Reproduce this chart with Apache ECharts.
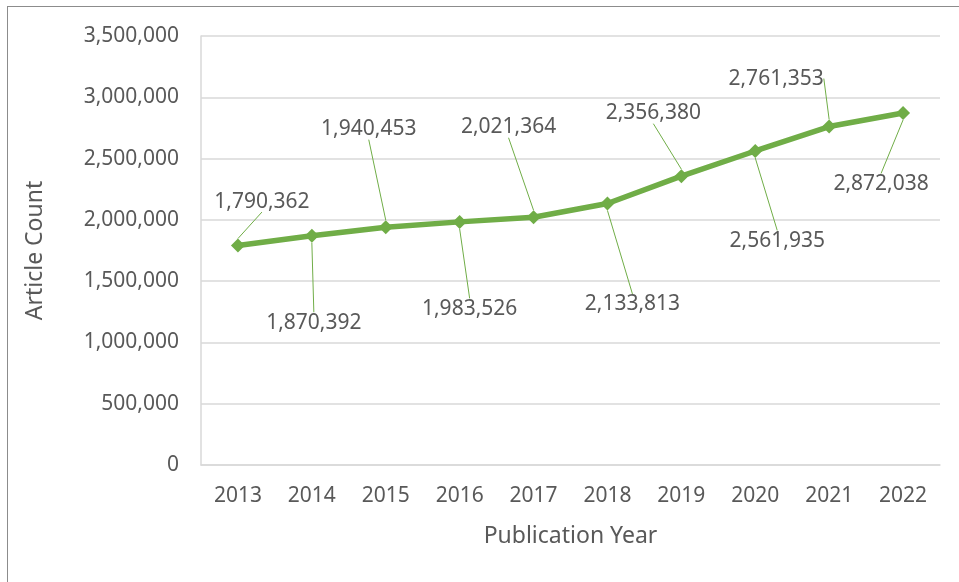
<!DOCTYPE html>
<html>
<head>
<meta charset="utf-8">
<script src="https://cdn.jsdelivr.net/npm/echarts@6/dist/echarts.min.js"></script>
<style>
html,body{margin:0;padding:0;background:#fff;}
#frame{position:absolute;left:7px;top:6px;width:960px;height:590px;border-left:1.5px solid #8c8c8c;border-top:1.5px solid #8c8c8c;}
#chart{position:absolute;left:0;top:0;width:959px;height:582px;}
</style>
</head>
<body>
<div id="frame"></div>
<div id="chart"></div>
<script>
const years = ['2013','2014','2015','2016','2017','2018','2019','2020','2021','2022'];
const articleCounts = [1790362, 1870392, 1940453, 1983526, 2021364, 2133813, 2356380, 2561935, 2761353, 2872038];
const yTicks = [0, 500000, 1000000, 1500000, 2000000, 2500000, 3000000, 3500000];
// label offsets (layout only)
const labelOffsets = [[24,-44],[2,87],[-17,-98],[10,87],[-25,-90],[25,101],[-28,-63],[22,90],[-53,-48],[-22,71]];

const green = '#70AD47';
const txt = '#595959';
const font = 'Noto Sans';
const chart = echarts.init(document.getElementById('chart'));
chart.setOption({
  animation: false,
  textStyle: {fontFamily: font},
  grid: {left: 201, top: 36, right: 19, bottom: 117, containLabel: false},
  xAxis: {
    type: 'category', data: years, boundaryGap: true,
    name: 'Publication Year', nameLocation: 'middle', nameGap: 60,
    nameTextStyle: {fontSize: 23, color: txt, fontFamily: font},
    axisLine: {lineStyle: {color: '#d9d9d9', width: 1.5}},
    axisTick: {show: false},
    axisLabel: {fontSize: 21, color: txt, margin: 21, fontFamily: font}
  },
  yAxis: {
    type: 'value', min: yTicks[0], max: yTicks[yTicks.length-1], interval: 500000,
    name: 'Article Count', nameLocation: 'middle', nameGap: 154, nameRotate: 90,
    nameTextStyle: {fontSize: 23, color: txt, fontFamily: font},
    axisLine: {show: true, lineStyle: {color: '#d9d9d9', width: 1.5}},
    axisTick: {show: false},
    splitLine: {lineStyle: {color: '#d9d9d9', width: 1.5}},
    axisLabel: {fontSize: 21, color: txt, margin: 22, fontFamily: font,
      formatter: v => v.toLocaleString('en-US')}
  },
  series: [{
    type: 'line', data: articleCounts,
    symbol: 'diamond', symbolSize: 14,
    lineStyle: {color: green, width: 5.5},
    itemStyle: {color: green},
    label: {show: true, position: 'inside', fontSize: 21, color: txt, fontFamily: font,
      formatter: p => p.value.toLocaleString('en-US')},
    labelLine: {show: true, lineStyle: {color: green, width: 1}},
    labelLayout: p => ({dx: labelOffsets[p.dataIndex][0], dy: labelOffsets[p.dataIndex][1]})
  }]
});
</script>
</body>
</html>
